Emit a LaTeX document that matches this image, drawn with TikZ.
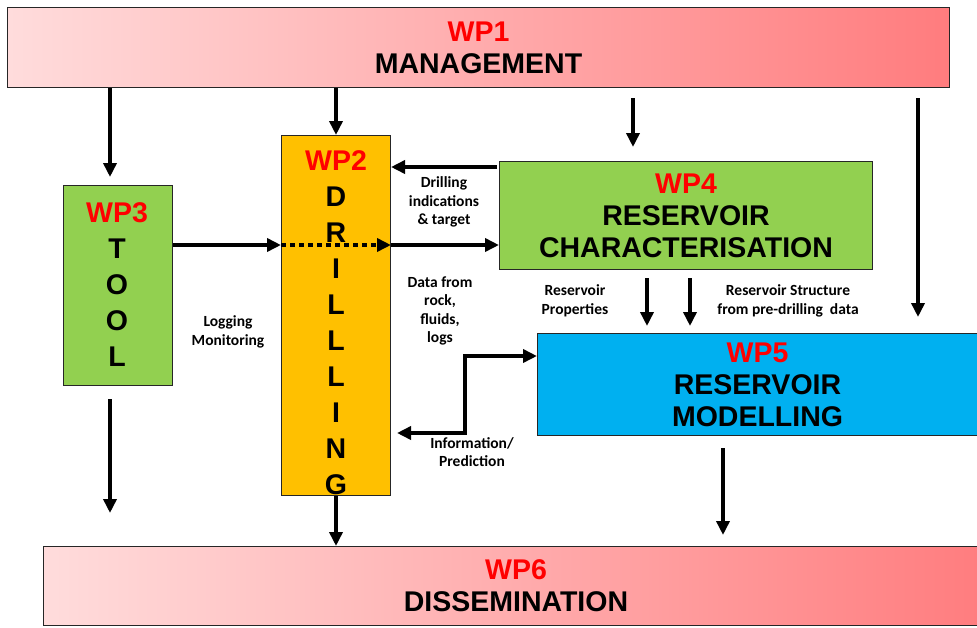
\documentclass[tikz,border=0pt]{standalone}
\usepackage{fontspec}
\setmainfont{Liberation Sans}
\newfontfamily\lblfont{Carlito}
\usetikzlibrary{arrows.meta,calc}
\definecolor{wpred}{RGB}{255,0,0}
\definecolor{orangefill}{RGB}{255,192,0}
\definecolor{greenfill}{RGB}{146,208,80}
\definecolor{bluefill}{RGB}{0,176,240}
\definecolor{pinkL}{RGB}{255,220,220}
\definecolor{pinkR}{RGB}{255,124,126}
\begin{document}
\begin{tikzpicture}[x=1pt,y=-1pt,
  box/.style={draw=black!85, line width=1pt, anchor=north west, inner sep=0pt, align=center,
    font=\bfseries\fontsize{28.5}{32}\selectfont},
  stack/.style={anchor=north, inner sep=0pt, align=center, font=\bfseries\fontsize{28.5}{36}\selectfont},
  arr/.style={line width=3.6pt, -{Triangle[length=14pt,width=13pt]}},
  arrboth/.style={line width=3.6pt, {Triangle[length=14pt,width=13pt]}-{Triangle[length=14pt,width=13pt]}},
  dotarr/.style={line width=3.6pt, dash pattern=on 5pt off 4pt, -{Triangle[length=14pt,width=13pt]}},
  lbl/.style={font=\lblfont\bfseries\fontsize{15.5}{18.5}\selectfont, align=center, inner sep=0pt}]
\useasboundingbox (0,0) rectangle (977,627);
\clip (0,0) rectangle (977,627);
\fill[white] (0,0) rectangle (977,627);

% boxes
\node[box, minimum width=942pt, minimum height=80pt, left color=pinkL, right color=pinkR] (wp1) at (7,7)
  {\textcolor{wpred}{WP1}\\MANAGEMENT};
\node[box, minimum width=109pt, minimum height=360pt, fill=orangefill] (wp2) at (281,135) {};
\node[box, minimum width=109pt, minimum height=200pt, fill=greenfill] (wp3) at (63,185) {};
\node[box, minimum width=373pt, minimum height=108pt, fill=greenfill] (wp4) at (499,161)
  {\textcolor{wpred}{WP4}\\RESERVOIR\\CHARACTERISATION};
\node[box, minimum width=450pt, minimum height=102pt, fill=bluefill, text width=440pt] (wp5) at (537,333)
  {\hspace*{-10pt}\textcolor{wpred}{WP5}\\\hspace*{-10pt}RESERVOIR\\\hspace*{-10pt}MODELLING};
\node[box, minimum width=945pt, minimum height=79pt, left color=pinkL, right color=pinkR] (wp6) at (43,546)
  {\textcolor{wpred}{WP6}\\DISSEMINATION};

% stacked texts
\node[stack] (wp2t) at (336,150) {\textcolor{wpred}{WP2}\\D\\R\\I\\L\\L\\L\\I\\N\\G};
\node[stack] (wp3t) at (117,202) {\textcolor{wpred}{WP3}\\T\\O\\O\\L};

% helper coordinates
\coordinate (xa) at (110,0);
\coordinate (xb) at (633,0);
\coordinate (xc) at (918,0);
\coordinate (xd) at (647,0);
\coordinate (xe) at (690,0);
\coordinate (xf) at (465,0);
\coordinate (xg) at (723,0);
\coordinate (ya) at (0,167);
\coordinate (yb) at (0,245);
\coordinate (yc) at (0,356);
\coordinate (yd) at (0,433);

% arrows from WP1
\draw[arr] (wp1.south -| xa) -- ($(wp3.north -| xa)+(0,-8)$);
\draw[arr] (wp1.south -| wp2.north) -- (wp2.north);
\draw[arr] ($(wp1.south -| xb)+(0,10)$) -- ($(wp4.north -| xb)+(0,-14)$);
\draw[arr] ($(wp1.south -| xc)+(0,10)$) -- ($(wp5.north -| xc)+(0,-16)$);

% WP4 -> WP2
\draw[arr] ($(wp4.west |- ya)+(-2,0)$) -- (wp2.east |- ya);
% WP3 -> WP2 -> WP4
\draw[arr] (wp3.east |- yb) -- (wp2.west |- yb);
\draw[dotarr] (wp2.west |- yb) -- (wp2.east |- yb);
\draw[arr] (wp2.east |- yb) -- (wp4.west |- yb);

% WP4 -> WP5
\draw[arr] ($(wp4.south -| xd)+(0,8)$) -- ($(wp5.north -| xd)+(0,-7)$);
\draw[arr] ($(wp4.south -| xe)+(0,8)$) -- ($(wp5.north -| xe)+(0,-7)$);

% WP2 <-> WP5
\draw[arrboth] ($(wp2.east |- yd)+(6,0)$) -- (xf |- yd) -- (xf |- yc) -- (wp5.west |- yc);

% to WP6
\draw[arr] ($(wp3.south -| xa)+(0,13)$) -- ($(wp6.north -| xa)+(0,-33)$);
\draw[arr] (wp2.south) -- (wp6.north -| wp2.south);
\draw[arr] ($(wp5.south -| xg)+(0,12)$) -- ($(wp6.north -| xg)+(0,-11)$);

% labels
\node[lbl] (l1) at (444,202) {Drilling\\indications\\\& target};
\node[lbl] (l2) at (440,311) {Data from\\rock,\\fluids,\\logs};
\node[lbl] (l3) at (228,332) {Logging\\Monitoring};
\node[lbl] (l4) at (575,301) {Reservoir\\Properties};
\node[lbl] (l5) at (788,301) {Reservoir Structure\\from pre-drilling\ \ data};
\node[lbl] (l6) at (472,452) {Information/\\Prediction};
\end{tikzpicture}
\end{document}
